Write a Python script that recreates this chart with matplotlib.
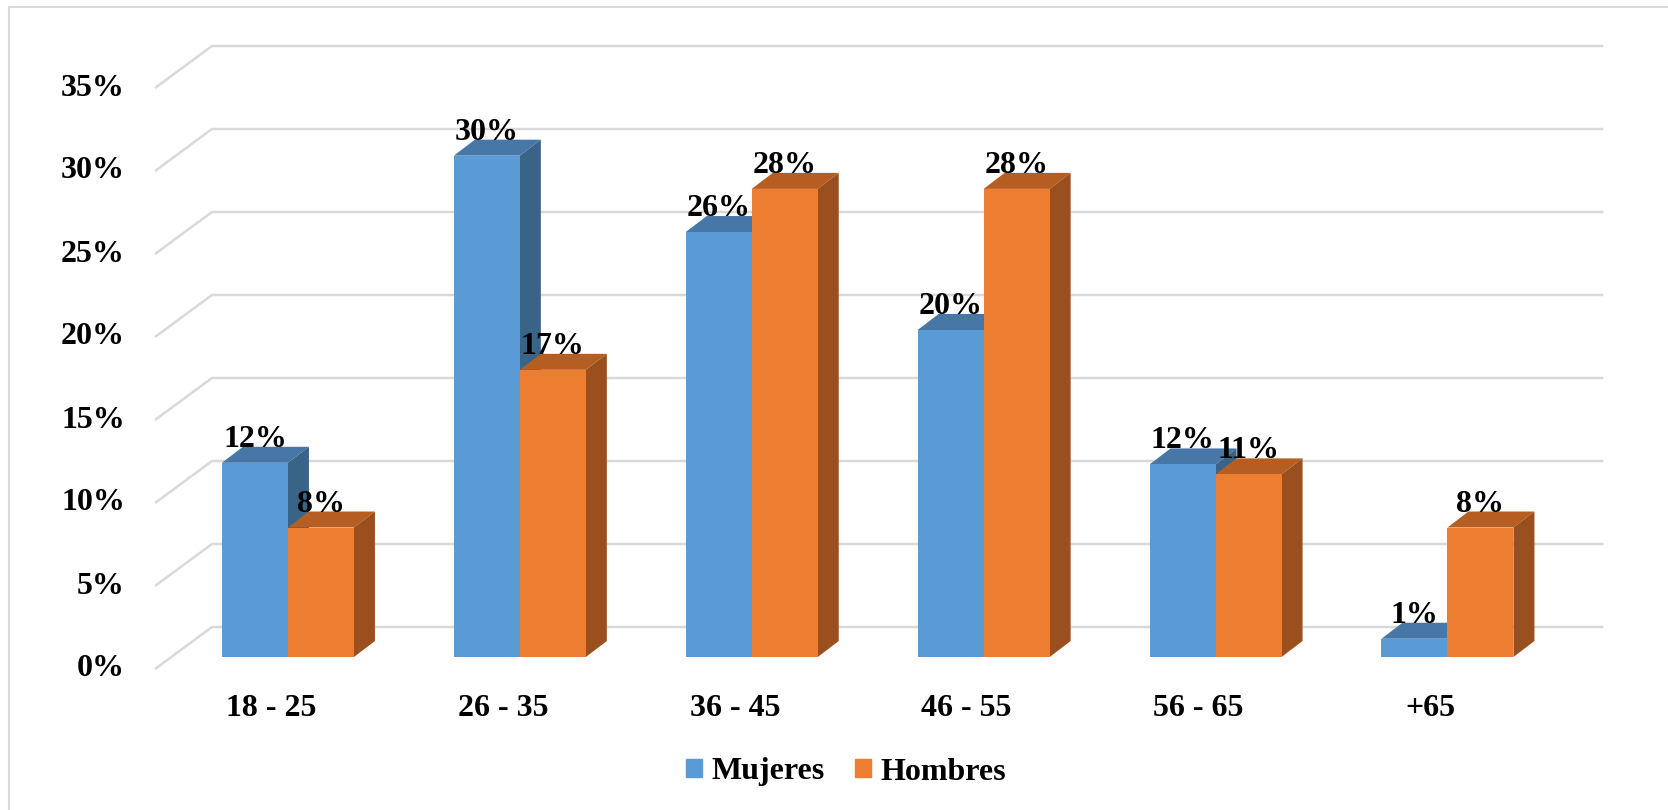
import numpy as np
import matplotlib.pyplot as plt
from matplotlib.patches import Polygon, Patch
from matplotlib.lines import Line2D

# ── data ──────────────────────────────────────────────────────────────────────
categories = ["18 - 25", "26 - 35", "36 - 45", "46 - 55", "56 - 65", "+65"]
mujeres    = [11.7, 30.2, 25.6, 19.7, 11.6, 1.1]
hombres    = [7.8, 17.3, 28.2, 28.2, 11.0, 7.8]
yticks     = [0, 5, 10, 15, 20, 25, 30, 35]

# ── colours ───────────────────────────────────────────────────────────────────
blue   = {"front": "#5B9BD5", "top": "#4677A6", "side": "#3A6487"}
orange = {"front": "#ED7D31", "top": "#B65E22", "side": "#9A501E"}
grid_c = "#D9D9D9"
FS = 23

plt.rcParams["font.family"] = ["Liberation Serif", "DejaVu Serif"]
plt.rcParams["font.weight"] = "bold"

# ── pseudo-3D geometry (pixels -> data units) ─────────────────────────────────
W, H = 1668, 810
px_x = 231.9          # pixels per category
px_y = 16.6           # pixels per percent
x0_px, y0_px = 172, 657   # left edge of bar plane, 0% level (from top)

bar_w   = 66 / px_x
bar_d   = (21 / px_x, 16 / px_y)     # bar depth
floor_f = (-17 / px_x, -12 / px_y)   # floor front edge vs bar front
wall_b  = (40 / px_x, 30 / px_y)     # back wall vs bar front

fig = plt.figure(figsize=(W / 100, H / 100), dpi=100)
ax = fig.add_axes([0, 0, 1, 1])
ax.set_xlim(-0.5 - x0_px / px_x, -0.5 + (W - x0_px) / px_x)
ax.set_ylim(-(H - y0_px) / px_y, y0_px / px_y)
ax.axis("off")

# ── grid: left wall diagonals + back wall lines ───────────────────────────────
n = len(categories)
xl = -0.5
xr = n - 0.5
for t in yticks:
    ax.plot([xl + floor_f[0], xl + wall_b[0], xr + wall_b[0]],
            [t + floor_f[1], t + wall_b[1], t + wall_b[1]],
            color=grid_c, linewidth=1.8, zorder=1, solid_capstyle="butt")
    ax.text(xl + floor_f[0] - 30 / px_x, t + floor_f[1], f"{t}%",
            ha="right", va="center", fontsize=FS, fontweight="bold")

# ── bars ──────────────────────────────────────────────────────────────────────
def bar3d(xc, v, col, z):
    a, b = xc - bar_w / 2, xc + bar_w / 2
    dx, dy = bar_d
    ax.add_patch(Polygon([(a, v), (b, v), (b + dx, v + dy), (a + dx, v + dy)],
                         closed=True, facecolor=col["top"], edgecolor="none", zorder=z))
    ax.add_patch(Polygon([(b, 0), (b, v), (b + dx, v + dy), (b + dx, dy)],
                         closed=True, facecolor=col["side"], edgecolor="none", zorder=z))
    ax.bar(xc, v, width=bar_w, color=col["front"], zorder=z + 0.5)
    ax.text(xc, v + dy, f"{round(v):.0f}%", ha="center", va="baseline",
            fontsize=FS, fontweight="bold", zorder=20)

x = np.arange(n)
for i in range(n):
    bar3d(x[i] - bar_w / 2, mujeres[i], blue, 2 + i * 2)
    bar3d(x[i] + bar_w / 2, hombres[i], orange, 3 + i * 2)

# category labels along front floor edge
for i, c in enumerate(categories):
    ax.text(x[i] + floor_f[0], (y0_px - 708) / px_y, c, ha="center", va="center",
            fontsize=FS, fontweight="bold")

# ── legend ────────────────────────────────────────────────────────────────────
handles = [Patch(color=blue["front"], label="Mujeres"),
           Patch(color=orange["front"], label="Hombres")]
fig.legend(handles=handles, loc="center", bbox_to_anchor=(846 / W, 1 - 772 / H),
           ncol=2, frameon=False, handlelength=0.5, handleheight=0.5,
           handletextpad=0.3, columnspacing=0.95, prop={"weight": "bold", "size": FS})

# chart border (only top and left edges are visible in the crop)
fig.lines.append(Line2D([9 / W, 9 / W, 1], [0, 1 - 7 / H, 1 - 7 / H],
                        transform=fig.transFigure, color=grid_c, linewidth=1.5))

fig.savefig("out.png", dpi=100)
